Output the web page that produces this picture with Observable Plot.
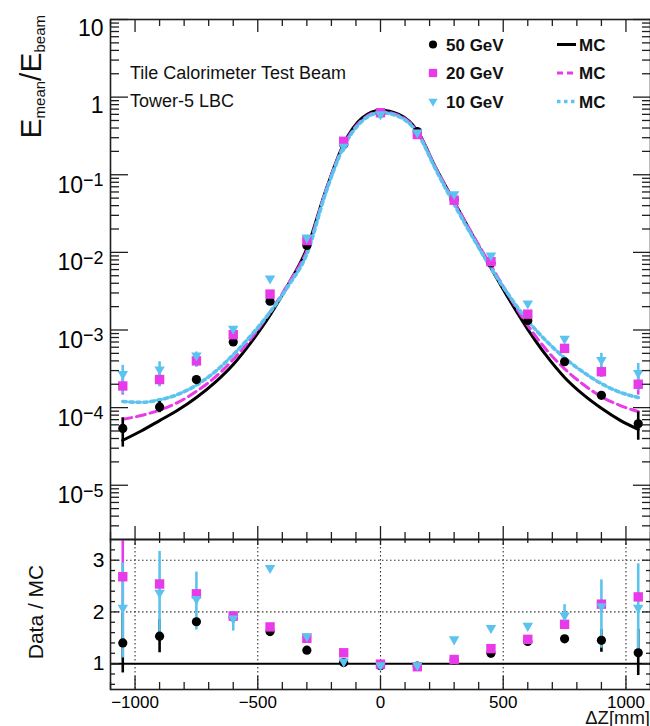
<!DOCTYPE html>
<html>
<head>
<meta charset="utf-8">
<script src="https://cdn.jsdelivr.net/npm/d3@7"></script>
<script src="https://cdn.jsdelivr.net/npm/@observablehq/plot@0.6"></script>
<style>
  html, body { margin: 0; padding: 0; background: #fff; }
  #chart { position: relative; width: 650px; height: 726px; overflow: hidden; }
  #chart svg { position: absolute; left: 0; }
</style>
</head>
<body>
<div id="chart"></div>
<script>
// Beam impact position along the module, mm
const zPos = [-1050, -900, -750, -600, -450, -300, -150, 0, 150, 300, 450, 600, 750, 900, 1050];

// Measured mean energy fraction per beam energy
const data50 = [5.4e-5, 1.02e-4, 2.3e-4, 7.0e-4, 2.35e-3, 1.23e-2, 0.245, 0.62, 0.36, 0.048, 7.3e-3, 1.33e-3, 3.9e-4, 1.44e-4, 6.2e-5];
const data20 = [1.9e-4, 2.3e-4, 4.0e-4, 8.7e-4, 2.9e-3, 1.42e-2, 0.27, 0.63, 0.33, 0.047, 7.6e-3, 1.6e-3, 5.8e-4, 2.9e-4, 2.0e-4];
const data10 = [2.7e-4, 3.1e-4, 4.7e-4, 1.04e-3, 4.6e-3, 1.55e-2, 0.23, 0.6, 0.35, 0.056, 9.1e-3, 2.2e-3, 7.7e-4, 4.1e-4, 2.8e-4];

// Statistical error bands (null where hidden by the marker)
const err50Lo = [3.1e-5, 8.6e-5, null, null, null, null, null, null, null, null, null, null, null, null, 3.8e-5];
const err50Hi = [7.4e-5, 1.2e-4, null, null, null, null, null, null, null, null, null, null, null, null, 8.8e-5];
const err20Lo = [1.45e-4, 1.9e-4, 3.4e-4, null, null, null, null, null, null, null, null, null, null, 2.45e-4, 1.45e-4];
const err20Hi = [2.4e-4, 2.75e-4, 4.7e-4, null, null, null, null, null, null, null, null, null, null, 3.4e-4, 2.5e-4];
const err10Lo = [1.5e-4, 1.85e-4, 3.3e-4, null, null, null, null, null, null, null, null, null, null, 2.45e-4, 1.65e-4];
const err10Hi = [3.5e-4, 3.9e-4, 5.2e-4, null, null, null, null, null, null, null, null, null, null, 5.0e-4, 3.7e-4];

// Simulation curves, sampled every 75 mm
const zMC = [-1050, -975, -900, -825, -750, -675, -600, -525, -450, -375, -300, -225, -150, -75, 0,
             75, 150, 225, 300, 375, 450, 525, 600, 675, 750, 825, 900, 975, 1050];
const mc50 = [3.8e-5, 5.0e-5, 6.8e-5, 9.3e-5, 1.35e-4, 2.1e-4, 3.6e-4, 7.1e-4, 1.55e-3, 3.9e-3, 1.12e-2, 6.0e-2, 0.25, 0.54, 0.68,
              0.60, 0.37, 0.123, 0.045, 0.0166, 6.3e-3, 2.45e-3, 1.02e-3, 4.7e-4, 2.45e-4, 1.48e-4, 9.8e-5, 6.9e-5, 5.25e-5];
const mc20 = [7.1e-5, 7.9e-5, 9.3e-5, 1.17e-4, 1.62e-4, 2.45e-4, 4.17e-4, 7.9e-4, 1.7e-3, 3.98e-3, 1.05e-2, 5.9e-2, 0.24, 0.51, 0.65,
              0.58, 0.363, 0.123, 0.0447, 0.017, 6.76e-3, 2.69e-3, 1.15e-3, 5.6e-4, 3.16e-4, 2.0e-4, 1.38e-4, 1.07e-4, 8.9e-5];
const mc10 = [1.2e-4, 1.17e-4, 1.26e-4, 1.48e-4, 1.95e-4, 2.88e-4, 4.8e-4, 8.7e-4, 1.7e-3, 3.72e-3, 9.55e-3, 5.6e-2, 0.229, 0.49, 0.63,
              0.562, 0.347, 0.117, 0.0417, 0.0158, 6.3e-3, 2.75e-3, 1.32e-3, 7.24e-4, 4.37e-4, 2.88e-4, 2.04e-4, 1.58e-4, 1.35e-4];

// Data / MC ratios
const ratio50 = [1.40, 1.53, 1.81, 1.90, 1.62, 1.26, 1.02, 0.96, 0.95, 1.07, 1.20, 1.43, 1.48, 1.45, 1.21];
const ratio20 = [2.68, 2.54, 2.35, 1.92, 1.71, 1.49, 1.21, 0.99, 0.94, 1.08, 1.29, 1.47, 1.76, 2.15, 2.29];
const ratio10 = [2.08, 2.37, 2.25, 1.87, 2.85, 1.53, 1.04, 0.97, 0.97, 1.47, 1.69, 1.73, 1.93, 2.11, 2.08];
const rErr50Lo = [0.82, 1.21, null, null, null, null, null, null, null, null, null, null, null, 1.22, 0.77];
const rErr50Hi = [1.98, 1.85, null, null, null, null, null, null, null, null, null, null, null, 1.66, 1.66];
const rErr20Lo = [1.95, null, null, null, null, null, null, null, null, null, null, null, null, null, null];
const rErr20Hi = [3.6, null, null, null, null, null, null, null, null, null, null, null, null, null, null];
const rErr10Lo = [1.11, 1.47, 1.65, 1.63, null, null, null, null, null, null, null, null, 1.66, 1.30, 1.22];
const rErr10Hi = [2.95, 3.17, 2.77, 2.01, null, null, null, null, null, null, null, null, 2.14, 2.62, 2.93];

// Axis ticks
const xMajor = [-1000, -500, 0, 500, 1000];
const xMinor = [-1100, -900, -800, -700, -600, -400, -300, -200, -100, 100, 200, 300, 400, 600, 700, 800, 900, 1100];
const logMajor = [1e-5, 1e-4, 1e-3, 1e-2, 1e-1, 1, 10];
const logMinor = [3e-6, 4e-6, 5e-6, 6e-6, 7e-6, 8e-6, 9e-6,
  2e-5, 3e-5, 4e-5, 5e-5, 6e-5, 7e-5, 8e-5, 9e-5,
  2e-4, 3e-4, 4e-4, 5e-4, 6e-4, 7e-4, 8e-4, 9e-4,
  2e-3, 3e-3, 4e-3, 5e-3, 6e-3, 7e-3, 8e-3, 9e-3,
  2e-2, 3e-2, 4e-2, 5e-2, 6e-2, 7e-2, 8e-2, 9e-2,
  0.2, 0.3, 0.4, 0.5, 0.6, 0.7, 0.8, 0.9, 2, 3, 4, 5, 6, 7, 8, 9];
const ratioMajor = [1, 2, 3];
const ratioMinor = [0.6, 0.8, 1.2, 1.4, 1.6, 1.8, 2.2, 2.4, 2.6, 2.8, 3.2];
const ratioGrid = [2, 3];

const FONT = "'Liberation Sans', Arial, Helvetica, sans-serif";
const MAGENTA = "#e83ae8";
const CYAN = "#5cc3ef";

const series = [
  {label: "50 GeV", data: data50, lo: err50Lo, hi: err50Hi, mc: mc50, ratio: ratio50, rlo: rErr50Lo, rhi: rErr50Hi,
   color: "#000", symbol: "circle", r: 4.6, rotate: 0, dash: null},
  {label: "20 GeV", data: data20, lo: err20Lo, hi: err20Hi, mc: mc20, ratio: ratio20, rlo: rErr20Lo, rhi: rErr20Hi,
   color: MAGENTA, symbol: "square", r: 5.3, rotate: 0, dash: "9,5"},
  {label: "10 GeV", data: data10, lo: err10Lo, hi: err10Hi, mc: mc10, ratio: ratio10, rlo: rErr10Lo, rhi: rErr10Hi,
   color: CYAN, symbol: "triangle", r: 3.9, rotate: 180, dash: "3.5,3.5"}
];

const pts = (vals) => zPos.map((z, i) => ({z, v: vals[i]}));
const bars = (lo, hi) => zPos.map((z, i) => ({z, lo: lo[i], hi: hi[i]})).filter(d => d.lo != null);

const frameStroke = {stroke: "#1e1e1e", strokeWidth: 1.6};
const tickStyle = {stroke: "#1e1e1e", strokeWidth: 1.3, tickFormat: () => "", label: null};

// Upper panel: energy fraction on a log scale
const mcLines = series.map(s => Plot.line(zMC.map((z, i) => ({z, v: s.mc[i]})), {
  x: "z", y: "v", stroke: s.color, strokeWidth: s.symbol === "triangle" ? 3.6 : 3,
  strokeDasharray: s.dash, curve: "monotone-x"
}));
const topBars = series.map(s => Plot.ruleX(bars(s.lo, s.hi), {x: "z", y1: "lo", y2: "hi", stroke: s.color, strokeWidth: 2.6}));
const topDots = series.map(s => Plot.dot(pts(s.data), {x: "z", y: "v", fill: s.color, symbol: s.symbol, r: s.r, rotate: s.rotate}));

const upper = Plot.plot({
  width: 650, height: 545,
  marginTop: 19, marginBottom: 6, marginLeft: 110, marginRight: 0,
  style: {background: "transparent", fontFamily: FONT, overflow: "visible"},
  x: {domain: [-1100, 1100]},
  y: {type: "log", domain: [2e-6, 10]},
  marks: [
    ...mcLines,
    ...topBars,
    ...topDots,
    Plot.axisY({anchor: "left", ticks: logMajor, tickSize: -18, ...tickStyle}),
    Plot.axisY({anchor: "left", ticks: logMinor, tickSize: -9, ...tickStyle}),
    Plot.axisY({anchor: "right", ticks: logMajor, tickSize: -18, ...tickStyle}),
    Plot.axisY({anchor: "right", ticks: logMinor, tickSize: -9, ...tickStyle}),
    Plot.axisX({anchor: "top", ticks: xMajor, tickSize: -12, ...tickStyle}),
    Plot.axisX({anchor: "top", ticks: xMinor, tickSize: -6, ...tickStyle}),
    Plot.axisX({anchor: "bottom", ticks: xMajor, tickSize: -13, ...tickStyle}),
    Plot.axisX({anchor: "bottom", ticks: xMinor, tickSize: -7, ...tickStyle}),
    Plot.axisY({anchor: "left", ticks: logMajor, tickSize: 0, tickPadding: 7, fontSize: 23, label: null,
      tickFormat: d => d >= 1 ? String(d) : "10^" + "\u2212" + Math.round(-Math.log10(d))}),
    Plot.frame(frameStroke)
  ]
});
upper.style.top = "0px";

// Lower panel: Data / MC ratio
const lowBars = series.map(s => Plot.ruleX(bars(s.rlo, s.rhi), {x: "z", y1: "lo", y2: "hi", stroke: s.color, strokeWidth: 2.6, clip: true}));
const lowDots = series.map(s => Plot.dot(pts(s.ratio), {x: "z", y: "v", fill: s.color, symbol: s.symbol, r: s.r, rotate: s.rotate, clip: true}));

const lower = Plot.plot({
  width: 650, height: 191,
  marginTop: 4, marginBottom: 37, marginLeft: 110, marginRight: 0,
  style: {background: "transparent", fontFamily: FONT, overflow: "visible"},
  x: {domain: [-1100, 1100]},
  y: {domain: [0.5, 3.4]},
  marks: [
    Plot.ruleX(xMajor, {stroke: "#333", strokeWidth: 1.1, strokeDasharray: "1.5,2.5"}),
    Plot.ruleY(ratioGrid, {stroke: "#333", strokeWidth: 1.1, strokeDasharray: "1.5,2.5"}),
    Plot.ruleY([1], {stroke: "#000", strokeWidth: 2}),
    ...lowBars,
    ...lowDots,
    Plot.axisY({anchor: "left", ticks: ratioMajor, tickSize: -9, ...tickStyle}),
    Plot.axisY({anchor: "left", ticks: ratioMinor, tickSize: -5, ...tickStyle}),
    Plot.axisY({anchor: "right", ticks: ratioMajor, tickSize: -9, ...tickStyle}),
    Plot.axisY({anchor: "right", ticks: ratioMinor, tickSize: -5, ...tickStyle}),
    Plot.axisX({anchor: "top", ticks: xMajor, tickSize: -5, ...tickStyle}),
    Plot.axisX({anchor: "top", ticks: xMinor, tickSize: -3, ...tickStyle}),
    Plot.axisX({anchor: "bottom", ticks: xMajor, tickSize: -13, ...tickStyle}),
    Plot.axisX({anchor: "bottom", ticks: xMinor, tickSize: -7, ...tickStyle}),
    Plot.axisY({anchor: "left", ticks: ratioMajor, tickSize: 0, tickPadding: 6, fontSize: 21, label: null, tickFormat: d3.format("d")}),
    Plot.axisX({anchor: "bottom", ticks: xMajor, tickSize: 0, tickPadding: 6, fontSize: 17, label: null, tickFormat: d3.format("d")}),
    Plot.frame(frameStroke)
  ]
});
lower.style.top = "535px";

const chart = document.getElementById("chart");
chart.appendChild(upper);
chart.appendChild(lower);

// Raised exponents on the log axis labels
d3.select(upper).selectAll('g[aria-label="y-axis tick label"] text').each(function () {
  const m = this.textContent.match(/^10\^(.+)$/);
  const t = d3.select(this);
  if (!m) { t.attr("dy", "0.38em"); return; }
  t.text(null);
  t.append("tspan").attr("dy", "0.46em").text("10");
  t.append("tspan").attr("dy", "-0.36em").attr("font-size", "0.78em").text(m[1]);
});

// Annotations, legend and axis titles
const ink = "#111";
const upperG = d3.select(upper).append("g")
  .attr("font-family", FONT).attr("fill", ink).attr("text-anchor", "start");
upperG.append("text").attr("x", 130).attr("y", 79).attr("font-size", 18).text("Tile Calorimeter Test Beam");
upperG.append("text").attr("x", 130).attr("y", 107).attr("font-size", 18).text("Tower-5 LBC");

const legendRows = [44.5, 73, 101.5];
const symbols = {circle: d3.symbolCircle, square: d3.symbolSquare, triangle: d3.symbolTriangle};
series.forEach((s, i) => {
  const y = legendRows[i];
  const area = Math.PI * (s.r * 0.88) ** 2;
  upperG.append("path")
    .attr("d", d3.symbol(symbols[s.symbol], area)())
    .attr("transform", `translate(433,${y}) rotate(${s.rotate})`)
    .attr("fill", s.color);
  upperG.append("text").attr("x", 446).attr("y", y + 6.3).attr("font-size", 17).attr("font-weight", "bold").text(s.label);
  upperG.append("line").attr("x1", 557).attr("x2", 576).attr("y1", y).attr("y2", y)
    .attr("stroke", s.color).attr("stroke-width", s.symbol === "triangle" ? 3.6 : 3)
    .attr("stroke-dasharray", s.symbol === "square" ? "6,4" : s.dash);
  upperG.append("text").attr("x", 579).attr("y", y + 6.3).attr("font-size", 17).attr("font-weight", "bold").text("MC");
});

const yTitle = upperG.append("text")
  .attr("transform", "translate(41,15) rotate(-90)")
  .attr("text-anchor", "end").attr("font-size", 30);
yTitle.append("tspan").text("E");
yTitle.append("tspan").attr("font-size", 15).attr("dy", 4).text("mean");
yTitle.append("tspan").attr("dy", -4).text("/E");
yTitle.append("tspan").attr("font-size", 15).attr("dy", 4).text("beam");

const lowerG = d3.select(lower).append("g").attr("font-family", FONT).attr("fill", ink);
lowerG.append("text")
  .attr("transform", "translate(43,77) rotate(-90)")
  .attr("text-anchor", "middle").attr("font-size", 21).text("Data / MC");
lowerG.append("text").attr("x", 650).attr("y", 188.5).attr("text-anchor", "end").attr("font-size", 18.5).text("\u0394Z[mm]");
</script>
</body>
</html>
